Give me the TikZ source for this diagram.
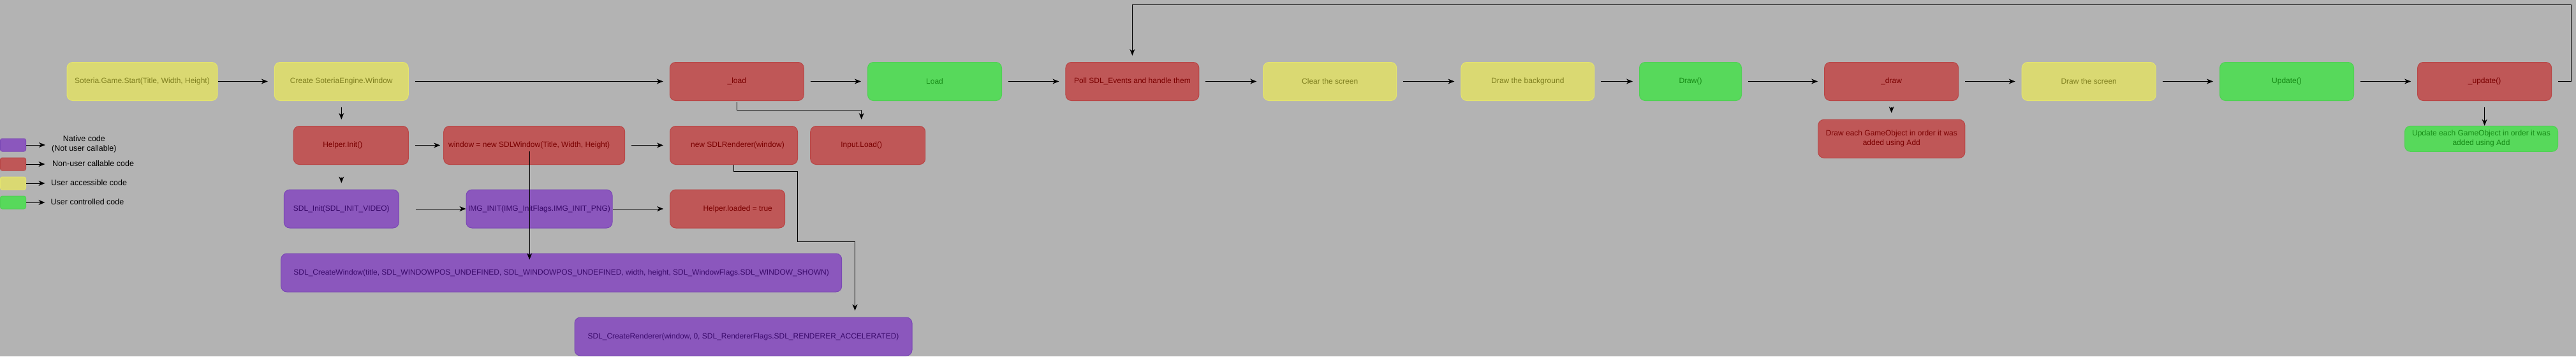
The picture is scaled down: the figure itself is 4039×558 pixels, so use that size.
\documentclass[tikz,border=0pt]{standalone}
\usepackage{fontspec}
\setmainfont{Liberation Sans}
\usepackage{xcolor}
\usepackage{tikz}
\usetikzlibrary{positioning, calc, arrows.meta}
\definecolor{BgGray}{RGB}{179,179,179}
\definecolor{NatFill}{RGB}{139,87,189}
\definecolor{NatLine}{RGB}{122,72,180}
\definecolor{NatText}{RGB}{58,10,107}
\definecolor{SysFill}{RGB}{191,87,87}
\definecolor{SysLine}{RGB}{184,70,70}
\definecolor{SysText}{RGB}{122,0,0}
\definecolor{UsrFill}{RGB}{218,217,114}
\definecolor{UsrLine}{RGB}{228,228,110}
\definecolor{UsrText}{RGB}{128,128,32}
\definecolor{CtlFill}{RGB}{87,217,91}
\definecolor{CtlLine}{RGB}{80,208,84}
\definecolor{CtlText}{RGB}{22,138,22}
\tikzset{
    codebox/.style={
        draw, line width=1pt, rounded corners=9pt, minimum height=60pt,
        inner sep=2pt, font=\fontsize{12}{15}\selectfont, anchor=center
    },
    nativebox/.style={codebox, draw=NatLine, fill=NatFill, text=NatText},
    sysbox/.style={codebox, draw=SysLine, fill=SysFill, text=SysText},
    userbox/.style={codebox, draw=UsrLine, fill=UsrFill, text=UsrText},
    ctrlbox/.style={codebox, draw=CtlLine, fill=CtlFill, text=CtlText},
    ptr/.style={
        -{Stealth[length=10pt, width=8pt, inset=3pt]}, line width=1pt, black,
        shorten <=10pt, shorten >=10pt
    },
    keybox/.style={
        draw, line width=1pt, rounded corners=3pt, minimum width=40pt, minimum height=20pt, inner sep=0pt
    },
    keytext/.style={
        font=\fontsize{12.5}{15}\selectfont, anchor=west, inner sep=0pt, align=center
    }
}

\begin{document}
\begin{tikzpicture}[x=1pt, y=-1pt]

                % --- NỀN ---
                \fill[BgGray] (0,0) rectangle (4039,558);
                \useasboundingbox (0,0) rectangle (4039,558);

                % --- CHÚ THÍCH ---
                \node[keybox, draw=NatLine, fill=NatFill] (keynat) at (20.5,227) {};
                \node[keybox, draw=SysLine, fill=SysFill] (keysys) at (20.5,257) {};
                \node[keybox, draw=UsrLine, fill=UsrFill] (keyusr) at (20.5,287) {};
                \node[keybox, draw=CtlLine, fill=CtlFill] (keyctl) at (20.5,317) {};
                \node[keytext] (keynattxt) at (81,226) {Native code\\(Not user callable)};
                \node[keytext] (keysystxt) at (82,256) {Non-user callable code};
                \node[keytext] (keyusrtxt) at (80,286) {User accessible code};
                \node[keytext] (keyctltxt) at (79.5,316) {User controlled code};
                \draw[ptr, shorten <=0pt] (keynat.east) -- (keynat.east -| keynattxt.west);
                \draw[ptr, shorten <=0pt, shorten >=11.5pt] (keysys.east) -- (keysys.east -| keysystxt.west);
                \draw[ptr, shorten <=0pt, shorten >=9.5pt] (keyusr.east) -- (keyusr.east -| keyusrtxt.west);
                \draw[ptr, shorten <=0pt, shorten >=9pt] (keyctl.east) -- (keyctl.east -| keyctltxt.west);

                % --- HÀNG CHÍNH ---
                \node[userbox, minimum width=236pt] (start) at (223,127.5) {Soteria.Game.Start(Title, Width, Height)};
                \node[userbox, minimum width=210pt] (createwin) at (535.3,127.5) {Create SoteriaEngine.Window};
                \node[sysbox, minimum width=210pt] (loadint) at (1155.3,127.5) {\_load};
                \node[ctrlbox, minimum width=210pt] (loaduser) at (1465.5,127.5) {Load};
                \node[sysbox, minimum width=209pt] (poll) at (1775.4,127.5) {Poll SDL\_Events and handle them};
                \node[userbox, minimum width=209pt] (clear) at (2085.2,127.5) {Clear the screen};
                \node[userbox, minimum width=209pt] (background) at (2395.4,127.5) {Draw the background};
                \node[ctrlbox, minimum width=160pt] (drawuser) at (2650.5,127.5) {Draw()};
                \node[sysbox, minimum width=210pt] (drawint) at (2965.6,127.5) {\_draw};
                \node[userbox, minimum width=210pt] (present) at (3275.2,127.5) {Draw the screen};
                \node[ctrlbox, minimum width=210pt] (updateuser) at (3585.5,127.5) {Update()};
                \node[sysbox, minimum width=210pt] (updateint) at (3895.6,127.5) {\_update()};

                % --- KHỞI TẠO ---
                \node[sysbox, minimum width=180pt] (helper) at (550.3,227.5) {Helper.Init()\hspace*{26pt}};
                \node[sysbox, minimum width=284pt] (window) at (837.7,227.5) {window = new SDLWindow(Title, Width, Height)\hspace*{16pt}};
                \node[sysbox, minimum width=200pt] (renderer) at (1150.5,227.5) {\hspace*{12pt}new SDLRenderer(window)};
                \node[sysbox, minimum width=180pt] (input) at (1360.7,227.5) {Input.Load()\hspace*{20pt}};
                \node[nativebox, minimum width=180pt] (sdlinit) at (535.3,327) {SDL\_Init(SDL\_INIT\_VIDEO)};
                \node[nativebox, minimum width=229pt] (imginit) at (845.5,327) {IMG\_INIT(IMG\_InitFlags.IMG\_INIT\_PNG)};
                \node[sysbox, minimum width=180pt] (loaded) at (1140.7,327) {\hspace*{32pt}Helper.loaded = true};
                \node[nativebox, minimum width=879pt] (sdlwindow) at (880.2,427) {SDL\_CreateWindow(title, SDL\_WINDOWPOS\_UNDEFINED, SDL\_WINDOWPOS\_UNDEFINED, width, height, SDL\_WindowFlags.SDL\_WINDOW\_SHOWN)};
                \node[nativebox, minimum width=529pt] (sdlrenderer) at (1165.5,527) {SDL\_CreateRenderer(window, 0, SDL\_RendererFlags.SDL\_RENDERER\_ACCELERATED)};

                % --- VÒNG LẶP ---
                \node[sysbox, minimum width=230pt, align=center] (drawall) at (2965.8,217.3) {Draw each GameObject in order it was\\added using Add};
                \node[ctrlbox, minimum width=240pt, minimum height=40pt, align=center] (updateall) at (3890.5,217.3) {Update each GameObject in order it was\\added using Add};

                % --- MŨI TÊN ---
                \draw[ptr, shorten <=0pt] (start) -- (createwin);
                \draw[ptr] (createwin) -- (loadint);
                \draw[ptr] (loadint) -- (loaduser);
                \draw[ptr] (loaduser) -- (poll);
                \draw[ptr] (poll) -- (clear);
                \draw[ptr] (clear) -- (background);
                \draw[ptr] (background) -- (drawuser);
                \draw[ptr] (drawuser) -- (drawint);
                \draw[ptr] (drawint) -- (present);
                \draw[ptr] (present) -- (updateuser);
                \draw[ptr] (updateuser) -- (updateint);
                \draw[ptr] (updateint.east) -- ++(30,0) |- ([yshift=90pt]poll.north) -- (poll.north);

                \draw[ptr] (createwin.south) -- (createwin.south |- helper.north);
                \draw[ptr, shorten <=20pt] (helper.south -| sdlinit.north) -- (sdlinit.north);
                \draw[ptr, shorten >=5pt] (helper) -- (window);
                \draw[ptr] (window) -- (renderer);
                \draw[ptr, shorten <=26pt, shorten >=0pt] (sdlinit) -- (imginit);
                \draw[ptr, shorten <=0pt] (imginit) -- (loaded);
                \draw[ptr, shorten <=0pt, shorten >=-10pt] ([xshift=-7.5pt, yshift=-9.5pt]window.center) -- ([xshift=-7.5pt]window.center |- sdlwindow.north);
                \draw[ptr, shorten <=0pt] (renderer.south) -- ++(0,10) -| ++(100,110) -| ([xshift=175pt]sdlrenderer.north);
                \draw[ptr, shorten <=2pt] (loadint.south) -- ++(0,14) -| ([xshift=-10pt]input.north);

                \draw[ptr] (drawint.south) -- (drawall.north);
                \draw[ptr, shorten >=0pt] (updateint.south) -- (updateint.south |- updateall.north);

\end{tikzpicture}
\end{document}
